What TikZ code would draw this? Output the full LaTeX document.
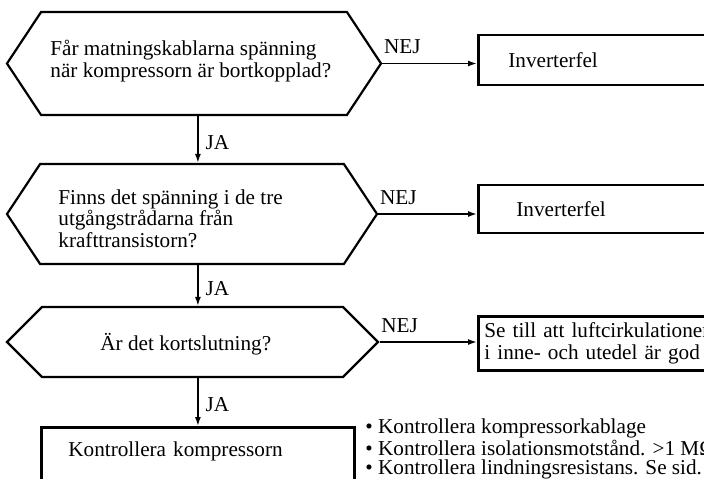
\documentclass[tikz,border=0pt]{standalone}
\usepackage{fontspec}
\setmainfont{Liberation Serif}
\usetikzlibrary{positioning, arrows.meta, shapes.symbols}

\begin{document}
\begin{tikzpicture}[
    x=0.5pt, y=-0.5pt,
    font=\fontsize{10.6}{10.8}\selectfont,
    ask/.style={signal, signal to=west and east, draw, line width=1.1pt, inner sep=0pt},
    qtext/.style={align=left, inner sep=0pt, anchor=west},
    outcome/.style={rectangle, draw, line width=1.4pt, anchor=west, text width=220pt, align=left},
    arrow/.style={-{Latex[length=4.5pt, width=3pt]}, line width=0.8pt},
    ja/.style={right, inner sep=3.5pt, yshift=-1.5pt},
    nej/.style={above right, inner xsep=0.5pt, inner ysep=4.5pt}
]
    \useasboundingbox (0,0) rectangle (704,478);
    \clip (0,0) rectangle (704,478);

    \node[ask, signal pointer angle=113, minimum width=187pt, minimum height=51.5pt] (q1) at (194,63.5) {};
    \node[qtext] (t1) at (50,61) {Får matningskablarna spänning\\när kompressorn är bortkopplad?};

    \node[ask, signal pointer angle=113, minimum width=185pt, minimum height=50pt] (q2) at (192,214) {};
    \node[qtext] (t2) at (58,218.5) {Finns det spänning i de tre\\utgångstrådarna från\\krafttransistorn?};

    \node[ask, signal pointer angle=90, minimum width=185.5pt, minimum height=35pt] (q3) at (192.5,342) {};
    \node[qtext, anchor=base west] (t3) at (100,350) {Är det kortslutning?};

    \node[outcome, minimum height=25pt, inner xsep=15pt] (b1) at (477,60) {Inverterfel};
    \node[outcome, minimum height=24pt, inner xsep=19pt] (b2) at (477,209) {Inverterfel};
    \node[outcome, minimum height=26.5pt, inner xsep=3pt] (b3) at (477,343.5) {Se till att luftcirkulationen\\i inne- och utedel är god};

    \node[rectangle, draw, line width=1.4pt, anchor=north west, text width=129.5pt, align=left,
          inner xsep=13.5pt, inner ysep=7.3pt, text depth=60pt] (chk) at (40,426) {Kontrollera kompressorn};

    \node[align=left, inner sep=0pt, anchor=north west, font=\fontsize{10.6}{9.6}\selectfont] (notes) at (365,418)
        {• Kontrollera kompressorkablage\\• Kontrollera isolationsmotstånd. >1 MΩ\\• Kontrollera lindningsresistans. Se sid.};

    \draw[arrow] (q1.south -| chk.north) -- node[ja] (ja1) {JA} (q2.north -| chk.north);
    \draw[arrow] (q2.south -| chk.north) -- node[ja] (ja2) {JA} (q3.north -| chk.north);
    \draw[arrow] (q3.south -| chk.north) -- node[ja] (ja3) {JA} (chk.north);

    \draw[arrow] (q1.east) -- node[nej, pos=0] (nej1) {NEJ} (q1.east -| b1.west);
    \draw[arrow] (q2.east) -- node[nej, pos=0] (nej2) {NEJ} (q2.east -| b2.west);
    \draw[arrow] (q3.east) -- node[nej, pos=0] (nej3) {NEJ} (q3.east -| b3.west);
\end{tikzpicture}
\end{document}
